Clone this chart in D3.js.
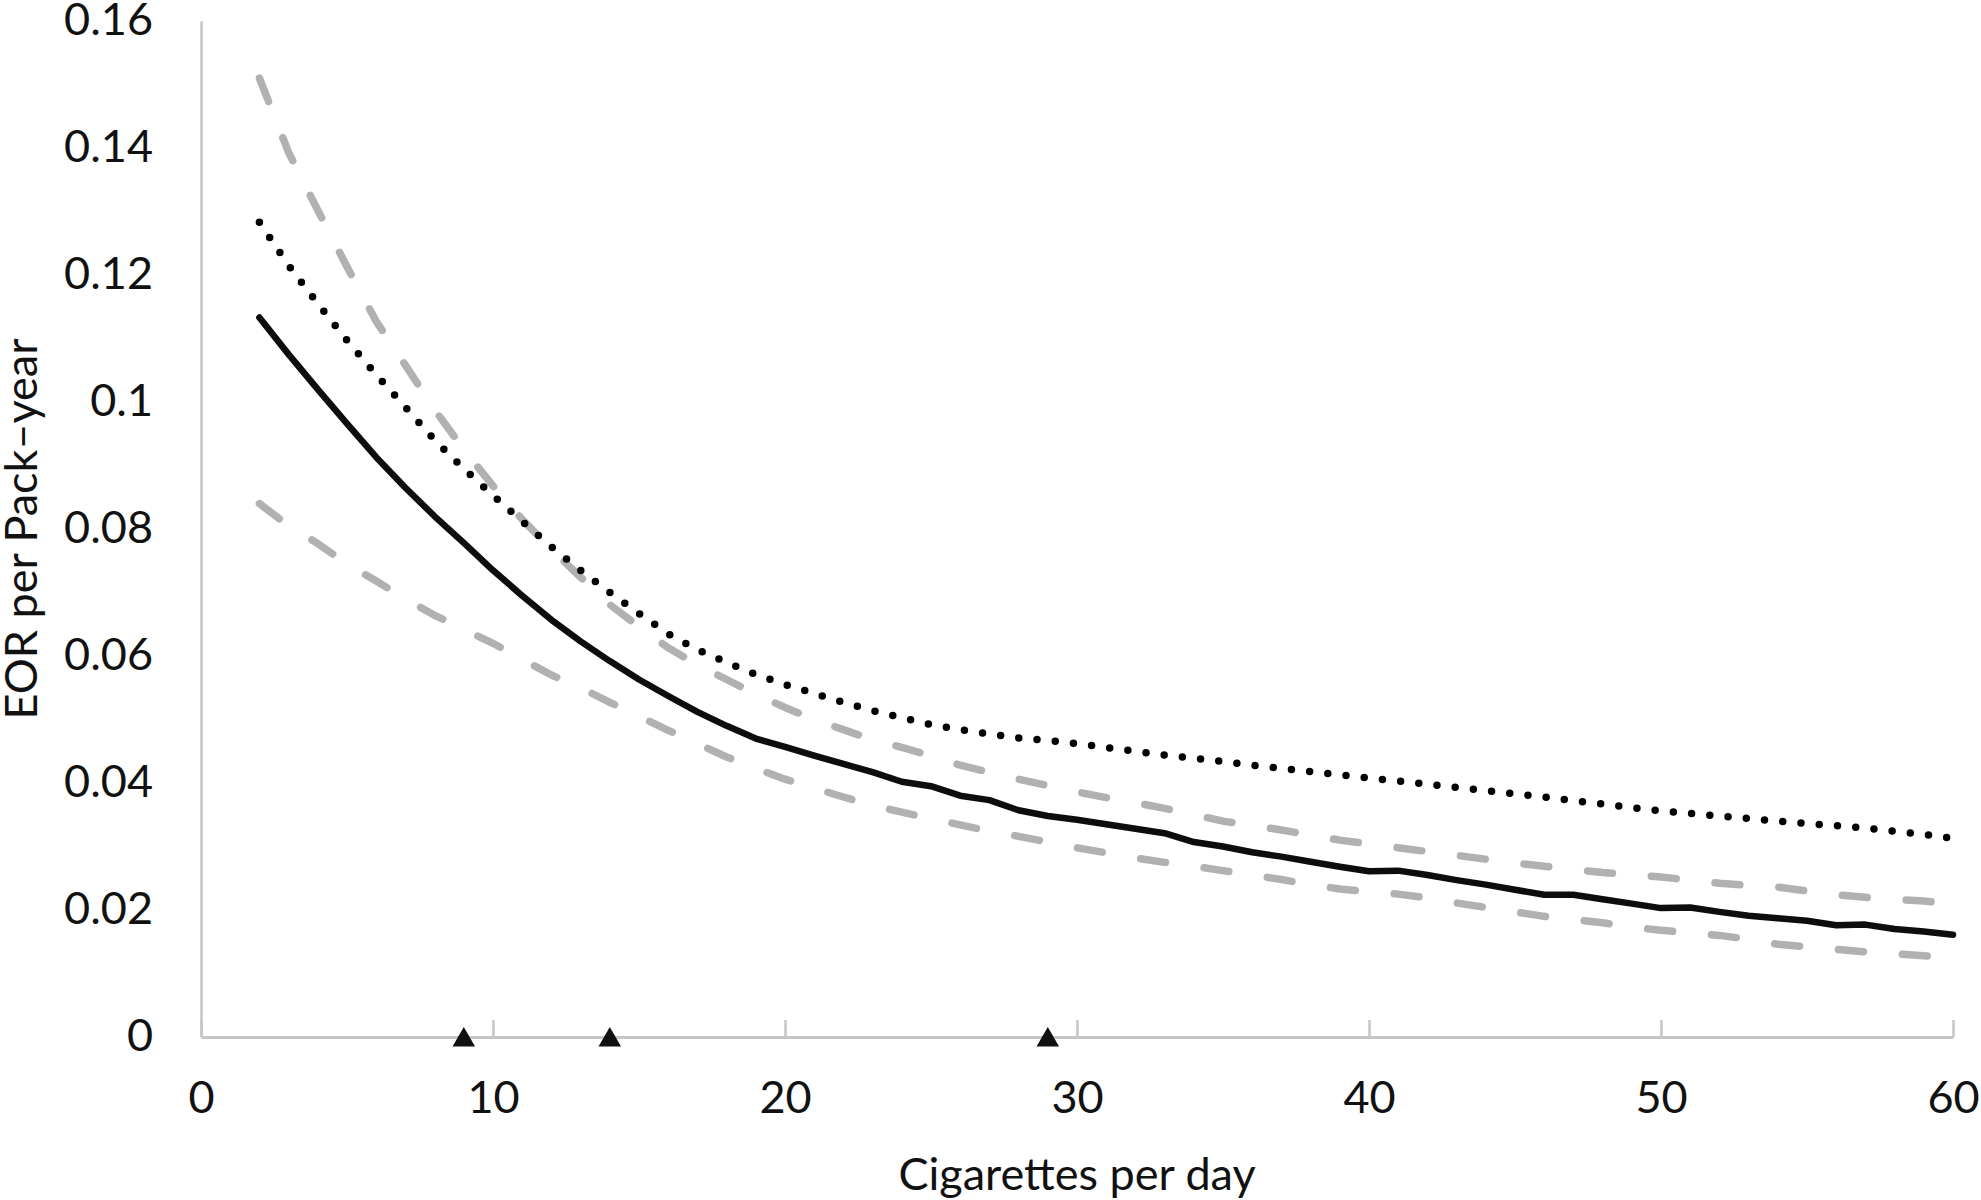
<!DOCTYPE html>
<html>
<head>
<meta charset="utf-8">
<script src="https://cdn.jsdelivr.net/npm/d3@7"></script>
<style>
	body { margin: 0; background: #fff; }
	text { font-family: Lato, "Open Sans", sans-serif; fill: #111; }
</style>
</head>
<body>
<div id="div"></div>
<script>
// cigarettes per day (x values of every series)
let cigs = [2, 3, 4, 5, 6, 7, 8, 9, 10, 11, 12, 13, 14, 15, 16, 17, 18, 19, 20, 21,
	22, 23, 24, 25, 26, 27, 28, 29, 30, 31, 32, 33, 34, 35, 36, 37, 38, 39, 40, 41,
	42, 43, 44, 45, 46, 47, 48, 49, 50, 51, 52, 53, 54, 55, 56, 57, 58, 59, 60]

// EOR per pack-year, solid line
let eor = [0.1133, 0.1075, 0.1020, 0.0966, 0.0913, 0.0865, 0.0820, 0.0778, 0.0735, 0.0695,
	0.0657, 0.0623, 0.0592, 0.0563, 0.0537, 0.0512, 0.0490, 0.0470, 0.0457, 0.0443,
	0.0430, 0.0417, 0.0402, 0.0395, 0.0380, 0.0373, 0.0357, 0.0348, 0.0342, 0.0335,
	0.0328, 0.0321, 0.0307, 0.0300, 0.0291, 0.0284, 0.0276, 0.0268, 0.0261, 0.0262,
	0.0255, 0.0247, 0.0240, 0.0232, 0.0224, 0.0224, 0.0217, 0.0210, 0.0203, 0.0204,
	0.0197, 0.0191, 0.0187, 0.0183, 0.0176, 0.0177, 0.0170, 0.0166, 0.0161]

// dotted line
let eorDotted = [0.1283, 0.1215, 0.1155, 0.1097, 0.1043, 0.0992, 0.0940, 0.0895, 0.0853, 0.0812,
	0.0772, 0.0735, 0.0700, 0.0667, 0.0635, 0.0610, 0.0590, 0.0571, 0.0555, 0.0541,
	0.0527, 0.0514, 0.0503, 0.0492, 0.0484, 0.0477, 0.0471, 0.0467, 0.0462, 0.0456,
	0.0450, 0.0444, 0.0439, 0.0434, 0.0428, 0.0423, 0.0418, 0.0413, 0.0408, 0.0403,
	0.0398, 0.0393, 0.0388, 0.0383, 0.0378, 0.0372, 0.0367, 0.0361, 0.0356, 0.0352,
	0.0348, 0.0344, 0.0340, 0.0336, 0.0333, 0.0329, 0.0324, 0.0319, 0.0313]

// confidence bounds, grey dashed
let ciUpper = [0.1510, 0.1393, 0.1302, 0.1213, 0.1127, 0.1058, 0.0988, 0.0925, 0.0868, 0.0815,
	0.0768, 0.0724, 0.0681, 0.0646, 0.0613, 0.0586, 0.0563, 0.0540, 0.0519, 0.0500,
	0.0484, 0.0468, 0.0456, 0.0443, 0.0428, 0.0417, 0.0406, 0.0396, 0.0386, 0.0377,
	0.0369, 0.0360, 0.0350, 0.0340, 0.0333, 0.0326, 0.0318, 0.0310, 0.0304, 0.0298,
	0.0292, 0.0286, 0.0280, 0.0274, 0.0269, 0.0264, 0.0259, 0.0256, 0.0252, 0.0247,
	0.0242, 0.0239, 0.0236, 0.0230, 0.0224, 0.0220, 0.0217, 0.0214, 0.0210]

let ciLower = [0.0840, 0.0805, 0.0777, 0.0745, 0.0718, 0.0690, 0.0664, 0.0642, 0.0620, 0.0595,
	0.0570, 0.0550, 0.0527, 0.0505, 0.0483, 0.0462, 0.0441, 0.0423, 0.0406, 0.0392,
	0.0378, 0.0365, 0.0354, 0.0344, 0.0334, 0.0324, 0.0316, 0.0307, 0.0298, 0.0290,
	0.0282, 0.0275, 0.0269, 0.0262, 0.0255, 0.0248, 0.0240, 0.0233, 0.0229, 0.0225,
	0.0219, 0.0211, 0.0204, 0.0197, 0.0190, 0.0185, 0.0180, 0.0173, 0.0168, 0.0164,
	0.0160, 0.0154, 0.0146, 0.0142, 0.0138, 0.0134, 0.0131, 0.0128, 0.0125]

// triangles on the x axis
let markerX = [9, 14, 29]

let xTicks = [0, 10, 20, 30, 40, 50, 60]
let yTicks = [0, 0.02, 0.04, 0.06, 0.08, 0.1, 0.12, 0.14, 0.16]
let yTickLabels = ["0", "0.02", "0.04", "0.06", "0.08", "0.1", "0.12", "0.14", "0.16"]

let w = 1981, h = 1200,
	margins = {left: 201, right: 1953, top: 21, bottom: 1037},
	fontSize = 45,
	axisColor = "#c6c6c6",
	svg = d3.select("#div").append("svg")
		.attr("width", w)
		.attr("height", h)

let x = d3.scaleLinear()
	.domain([0, 60])
	.range([margins.left, margins.right])

let y = d3.scaleLinear()
	.domain([0, 0.16])
	.range([margins.bottom, margins.top])

// x axis: grey line, ticks pointing up, labels below
let xAxis = d3.axisBottom(x)
	.tickValues(xTicks)
	.tickSizeInner(-17)
	.tickSizeOuter(0)
	.tickPadding(0)
	.tickFormat(d3.format("d"))

let gx = svg.append("g")
	.attr("transform", "translate(0," + margins.bottom + ")")
	.call(xAxis)
gx.select(".domain").attr("stroke", axisColor).attr("stroke-width", 3)
gx.selectAll(".tick line").attr("stroke", axisColor).attr("stroke-width", 2.5)
gx.selectAll(".tick text")
	.attr("y", 76)
	.attr("dy", null)
	.style("font-size", fontSize + "px")
	.style("font-family", "Lato, sans-serif")
	.attr("fill", "#111")

// y axis: line only, labels on the left
let yAxis = d3.axisLeft(y)
	.tickValues(yTicks)
	.tickSize(0)
	.tickPadding(48)
	.tickFormat((d, i) => yTickLabels[i])

let gy = svg.append("g")
	.attr("transform", "translate(" + margins.left + ",0)")
	.call(yAxis)
gy.select(".domain").attr("stroke", axisColor).attr("stroke-width", 2.5)
gy.selectAll(".tick text")
	.attr("dy", 13)
	.style("font-size", fontSize + "px")
	.style("font-family", "Lato, sans-serif")
	.attr("fill", "#111")

let lineOf = values => d3.line()
	.x((d, i) => x(cigs[i]))
	.y(d => y(d))(values)

// confidence bounds
svg.selectAll(".ci")
	.data([ciUpper, ciLower])
	.enter()
	.append("path")
	.attr("class", "ci")
	.attr("d", lineOf)
	.attr("fill", "none")
	.attr("stroke", "#b1b1b4")
	.attr("stroke-width", 7.5)
	.attr("stroke-linecap", "round")
	.attr("stroke-linejoin", "round")
	.attr("stroke-dasharray", "25 39")

// dotted line
svg.append("path")
	.attr("d", lineOf(eorDotted))
	.attr("fill", "none")
	.attr("stroke", "#000")
	.attr("stroke-width", 7.5)
	.attr("stroke-linecap", "round")
	.attr("stroke-dasharray", "0 18.3")

// main estimate
svg.append("path")
	.attr("d", lineOf(eor))
	.attr("fill", "none")
	.attr("stroke", "#0d0d0d")
	.attr("stroke-width", 6.5)
	.attr("stroke-linejoin", "round")
	.attr("stroke-linecap", "round")

// triangles
svg.selectAll(".marker")
	.data(markerX)
	.enter()
	.append("path")
	.attr("class", "marker")
	.attr("d", d3.symbol().type(d3.symbolTriangle).size(220))
	.attr("transform", d => "translate(" + x(d) + "," + (y(0) + 3) + ")")
	.attr("fill", "#111")

// axis titles
svg.append("text")
	.attr("x", (margins.left + margins.right) / 2)
	.attr("y", 1190)
	.attr("text-anchor", "middle")
	.style("font-size", fontSize + "px")
	.text("Cigarettes per day")

svg.append("text")
	.attr("transform", "rotate(-90)")
	.attr("x", -(margins.top + margins.bottom) / 2)
	.attr("y", 37)
	.attr("text-anchor", "middle")
	.style("font-size", fontSize + "px")
	.text("EOR per Pack\u2013year")
</script>
</body>
</html>
